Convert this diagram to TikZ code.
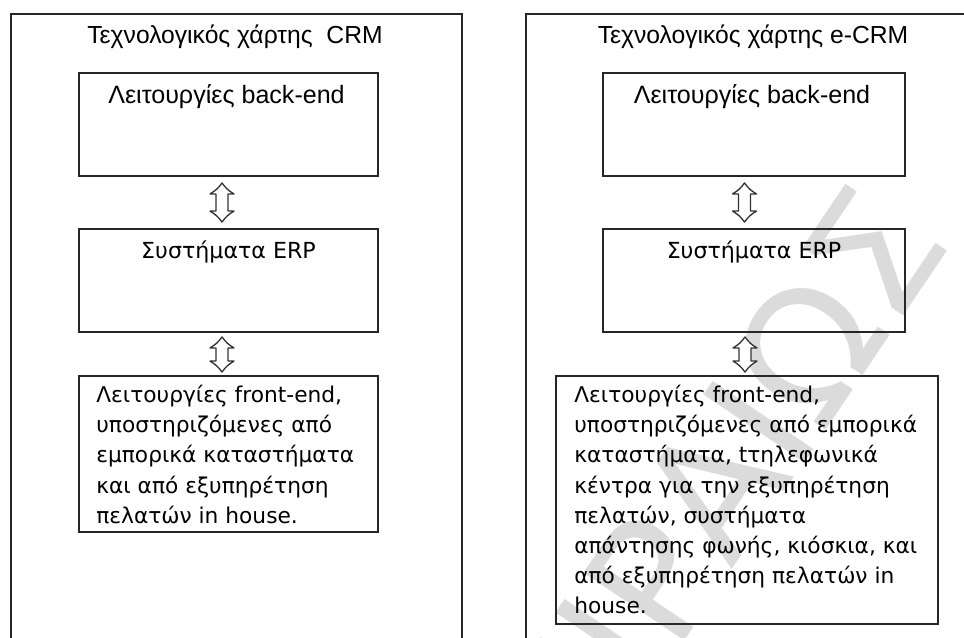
\documentclass[tikz,border=0pt]{standalone}
\usepackage{fontspec}
\setmainfont{Liberation Sans}
\newfontfamily\geofont{DejaVu Sans}
\usetikzlibrary{calc}
\newdimen\pxu \pxu=0.75pt

% hollow up-down connector between two named tip coordinates
\newcommand\dblconnector[2]{%
  \draw[connector] (#1) to[bend right=12] ($(#1)+(12,11)$) -- ($(#1)+(6,11)$)
    -- ($(#2)+(6,-11)$) -- ($(#2)+(12,-11)$) to[bend right=12] (#2)
    to[bend right=12] ($(#2)+(-12,-11)$) -- ($(#2)+(-6,-11)$)
    -- ($(#1)+(-6,11)$) -- ($(#1)+(-12,11)$) to[bend right=12] (#1) -- cycle;}

\begin{document}
\begin{tikzpicture}[x=0.75pt,y=-0.75pt,
  frame/.style={draw=black!85, line width=1.4pt, anchor=north west, inner sep=0pt},
  box/.style={draw=black!85, line width=1.4pt, inner sep=0pt, fill=none},
  connector/.style={draw=black!80, line width=1pt, fill=white, line join=round},
  titletext/.style={font=\fontsize{18.5}{22}\selectfont, inner sep=0pt},
  labeltext/.style={font=\fontsize{18.8}{22}\selectfont, inner sep=0pt},
  erptext/.style={font=\geofont\fontsize{16.6}{20}\selectfont, inner sep=0pt},
  bodytext/.style={font=\geofont\fontsize{16.3}{22.6}\selectfont, align=left, inner sep=0pt, anchor=north west},
  watermark/.style={font=\geofont\fontsize{125}{125}\selectfont, text=black!14, inner sep=0pt}]
\clip (0,0) rectangle (964,637);
\fill[white] (0,0) rectangle (964,637);

% background watermark
\node[watermark, rotate=56] (wm) at (685,530) {ΠΕΙΡΑΙΩΣ};

% outer frames of the two maps
\node[frame, minimum width=451\pxu, minimum height=640\pxu] (map1) at (10,13) {};
\node[frame, minimum width=470\pxu, minimum height=640\pxu] (map2) at (525,13) {};

\node[titletext] (title1) at (235,37) {Τεχνολογικός χάρτης\ \ CRM};
\node[titletext] (title2) at (753,37) {Τεχνολογικός χάρτης e-CRM};

% left map: CRM
\node[box, minimum width=299\pxu, minimum height=103\pxu] (back1) at (228.5,124.5) {};
\node[box, minimum width=299\pxu, minimum height=103\pxu] (erp1) at (228.5,280.5) {};
\node[box, minimum width=299\pxu, minimum height=156\pxu] (front1) at (228.5,454) {};
\node[labeltext] (back1t) at ($(back1.north)+(-2,25)$) {Λειτουργίες back-end};
\node[erptext] (erp1t) at ($(erp1.north)+(0,24)$) {Συστήματα ERP};
\node[bodytext] (front1t) at ($(front1.north west)+(18,10)$)
  {Λειτουργίες front-end,\\ υποστηριζόμενες από\\ εμπορικά καταστήματα\\ και από εξυπηρέτηση\\ πελατών in house.};

% right map: e-CRM
\node[box, minimum width=302\pxu, minimum height=103\pxu] (back2) at (754,124.5) {};
\node[box, minimum width=302\pxu, minimum height=103\pxu] (erp2) at (754,280.5) {};
\node[box, minimum width=382\pxu, minimum height=248\pxu] (front2) at (747,500) {};
\node[labeltext] (back2t) at ($(back2.north)+(-2,25)$) {Λειτουργίες back-end};
\node[erptext] (erp2t) at ($(erp2.north)+(0,24)$) {Συστήματα ERP};
\node[bodytext] (front2t) at ($(front2.north west)+(19,10)$)
  {Λειτουργίες front-end,\\ υποστηριζόμενες από εμπορικά\\ καταστήματα, tτηλεφωνικά\\ κέντρα για την εξυπηρέτηση\\ πελατών, συστήματα\\ απάντησης φωνής, κιόσκια, και\\ από εξυπηρέτηση πελατών in\\ house.};

% connector tips
\coordinate (c1a) at ($(back1.south)+(-6.5,6)$);
\coordinate (c1b) at ($(erp1.north)+(-6.5,-6)$);
\coordinate (c2a) at ($(erp1.south)+(-6.5,4)$);
\coordinate (c2b) at ($(front1.north)+(-6.5,-3)$);
\coordinate (c3a) at ($(back2.south)+(-9.5,6)$);
\coordinate (c3b) at ($(erp2.north)+(-9.5,-6)$);
\coordinate (c4a) at ($(erp2.south)+(-9,4)$);
\coordinate (c4b) at ($(front2.north)+(-2,-3)$);
\dblconnector{c1a}{c1b}
\dblconnector{c2a}{c2b}
\dblconnector{c3a}{c3b}
\dblconnector{c4a}{c4b}
\end{tikzpicture}
\end{document}
